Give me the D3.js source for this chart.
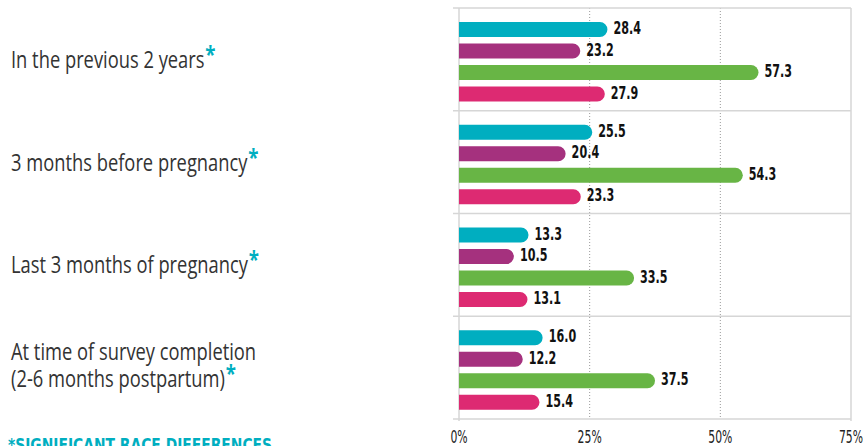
<!DOCTYPE html>
<html>
<head>
<meta charset="utf-8">
<script src="https://cdn.jsdelivr.net/npm/d3@7"></script>
<style>
  body { margin: 0; background: #fff; }
  svg { display: block; }
</style>
</head>
<body>
<svg width="863" height="446"></svg>
<script>
const categories = [
  ["In the previous 2 years"],
  ["3 months before pregnancy"],
  ["Last 3 months of pregnancy"],
  ["At time of survey completion", "(2-6 months postpartum)"]
];
const groups = ["cyan", "purple", "green", "pink"];
const colors = ["#00aec0", "#a5317e", "#68b545", "#dd2a72"];
const values = [
  [28.4, 23.2, 57.3, 27.9],
  [25.5, 20.4, 54.3, 23.3],
  [13.3, 10.5, 33.5, 13.1],
  [16.0, 12.2, 37.5, 15.4]
];
const ticks = [0, 25, 50, 75];
const footnote = "*SIGNIFICANT RACE DIFFERENCES";

const svg = d3.select("svg");
const plotLeft = 459, plotRight = 851, plotTop = 8, plotBottom = 419;
const condensed = "'DejaVu Sans', sans-serif";

const x = d3.scaleLinear().domain([0, 75]).range([plotLeft, plotRight]);
const y = d3.scaleBand().domain(d3.range(categories.length)).range([plotTop, plotBottom]);
const yInner = d3.scaleBand().domain(d3.range(groups.length))
  .range([10.8, 96.8]).paddingInner(0.3).paddingOuter(0.15);

const grid = svg.append("g");
// dotted verticals
grid.selectAll("line.dot")
  .data(ticks.slice(1, -1))
  .join("line")
  .attr("x1", d => x(d)).attr("x2", d => x(d))
  .attr("y1", plotTop).attr("y2", plotBottom)
  .style("stroke", "#9a9a9a")
  .style("stroke-width", "1px")
  .style("stroke-dasharray", "1,2");
// solid left/right
grid.selectAll("line.edge")
  .data([0, 75])
  .join("line")
  .attr("x1", d => x(d)).attr("x2", d => x(d))
  .attr("y1", plotTop).attr("y2", plotBottom + 2)
  .style("stroke", "#d6d6d6")
  .style("stroke-width", "1.5px");
// separators
grid.selectAll("line.sep")
  .data(d3.range(categories.length + 1))
  .join("line")
  .attr("x1", plotLeft - 6).attr("x2", plotRight)
  .attr("y1", d => d === categories.length ? plotBottom : y(d))
  .attr("y2", d => d === categories.length ? plotBottom : y(d))
  .style("stroke", "#d6d6d6")
  .style("stroke-width", "1.5px");

// rounded-end bar path
function barPath(x0, x1, yTop, h) {
  const r = h / 2;
  const w = Math.max(x1 - x0 - r, 0);
  return `M${x0},${yTop}h${w}a${r},${r} 0 0 1 0,${h}h${-w}z`;
}

const rows = svg.append("g").selectAll("g")
  .data(values)
  .join("g")
  .attr("transform", (d, i) => `translate(0,${y(i)})`);

rows.selectAll("path")
  .data(d => d)
  .join("path")
  .attr("d", (d, j) => barPath(x(0), x(d), yInner(j), yInner.bandwidth()))
  .style("fill", (d, j) => colors[j]);

// value labels, squeezed horizontally to look condensed
rows.selectAll("g.val")
  .data(d => d)
  .join("g")
  .attr("class", "val")
  .attr("transform", (d, j) =>
    `translate(${x(d) + 6},${yInner(j) + yInner.bandwidth() / 2 + 4.5}) scale(0.62,1)`)
  .append("text")
  .style("font-family", condensed)
  .style("font-weight", "bold")
  .style("font-size", "18px")
  .style("fill", "#111")
  .text(d => d.toFixed(1));

// x axis labels
svg.append("g").selectAll("g")
  .data(ticks)
  .join("g")
  .attr("transform", d => `translate(${x(d)},443) scale(0.62,1)`)
  .append("text")
  .attr("text-anchor", "middle")
  .style("font-family", condensed)
  .style("font-size", "17.5px")
  .style("fill", "#222")
  .text(d => d + "%");

// category labels
const lineGap = 27;
const cat = svg.append("g").selectAll("g")
  .data(categories)
  .join("g")
  .attr("transform", (d, i) =>
    `translate(11,${y(i) + y.bandwidth() / 2 + 8.5 - (d.length - 1) * 16.2}) scale(0.78,1)`)
  .append("text")
  .style("font-family", "'Open Sans', sans-serif")
  .style("font-size", "23.5px")
  .style("fill", "#333");

cat.each(function (d) {
  const t = d3.select(this);
  d.forEach((line, k) => {
    t.append("tspan")
      .attr("x", 0)
      .attr("dy", k === 0 ? 0 : lineGap)
      .text(line);
  });
  t.append("tspan")
    .attr("dx", 1)
    .attr("dy", -5)
    .style("fill", "#00aec0")
    .style("font-weight", "bold")
    .style("font-size", "24px")
    .text("*");
});

svg.append("text")
  .attr("x", 8)
  .attr("y", 451)
  .attr("textLength", 264)
  .attr("lengthAdjust", "spacingAndGlyphs")
  .style("font-family", "'DejaVu Sans', sans-serif")
  .style("font-weight", "bold")
  .style("font-size", "17px")
  .style("fill", "#00aec0")
  .text(footnote);
</script>
</body>
</html>
